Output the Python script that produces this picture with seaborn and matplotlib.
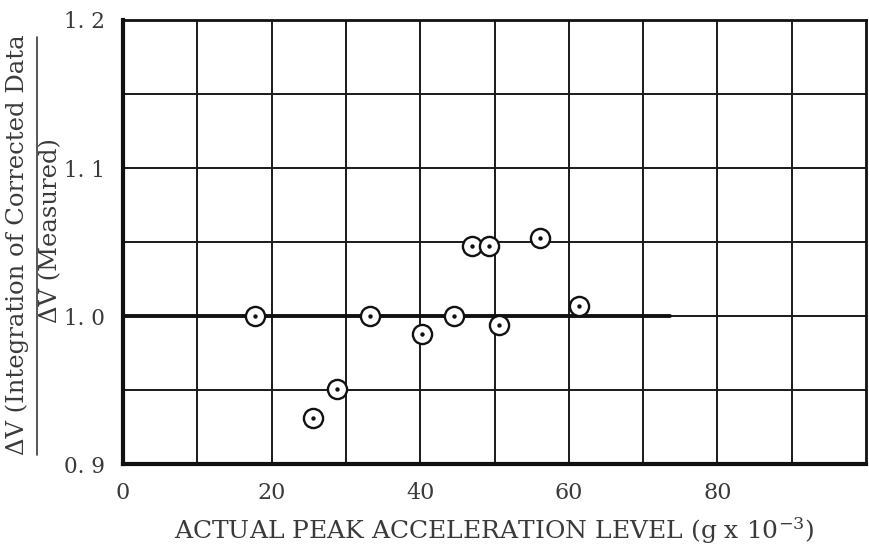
import matplotlib
matplotlib.use("Agg")
import matplotlib.pyplot as plt
import seaborn as sns
import pandas as pd
from matplotlib.lines import Line2D

# values
peak_accel = [17.8, 25.6, 28.8, 33.2, 40.2, 44.5, 47.0, 49.3, 50.6, 56.1, 61.4]
dv_ratio = [1.000, 0.931, 0.951, 1.000, 0.988, 1.000, 1.047, 1.047, 0.994, 1.053, 1.007]
x_ticks = [0, 20, 40, 60, 80]
y_ticks = [0.9, 1.0, 1.1, 1.2]
y_tick_labels = ['0. 9', '1. 0', '1. 1', '1. 2']
ref_line_end = 73.6

df = pd.DataFrame({'accel': peak_accel, 'ratio': dv_ratio})

sns.set_style('white')
plt.rcParams['font.family'] = ['DejaVu Serif']
plt.rcParams['mathtext.default'] = 'regular'

ink = '#3a3a3a'
fig = plt.figure(figsize=(8.7, 5.46), dpi=100)
ax = fig.add_axes([0.1414, 0.150, 0.854, 0.8134])

# grid every 10 g / every 0.05
for gx in range(10, 100, 10):
    ax.axvline(gx, color='#1a1a1a', lw=1.4, zorder=1)
for gy in [0.95, 1.0, 1.05, 1.1, 1.15]:
    ax.axhline(gy, color='#1a1a1a', lw=1.4, zorder=1)
ax.plot([0, ref_line_end], [1.0, 1.0], color='#111111', lw=2.8, zorder=2)

sns.scatterplot(data=df, x='accel', y='ratio', ax=ax, marker='o', s=190,
                facecolor='white', edgecolor='#111111', linewidth=1.7, zorder=3)
sns.scatterplot(data=df, x='accel', y='ratio', ax=ax, marker='o', s=10,
                color='#111111', linewidth=0, zorder=4)

ax.set_xlim(0, 100)
ax.set_ylim(0.9, 1.2)
ax.set_xticks(x_ticks)
ax.set_xticklabels([str(t) for t in x_ticks])
ax.set_yticks(y_ticks)
ax.set_yticklabels(y_tick_labels)
ax.tick_params(axis='both', length=0, colors=ink)
ax.tick_params(axis='x', pad=13, labelsize=16)
ax.tick_params(axis='y', pad=13, labelsize=15.5)

for side, w in [('left', 3.0), ('bottom', 3.0), ('top', 2.0), ('right', 2.0)]:
    ax.spines[side].set_visible(True)
    ax.spines[side].set_color('#111111')
    ax.spines[side].set_linewidth(w)

ax.set_xlabel('ACTUAL PEAK ACCELERATION LEVEL (g x 10$^{-3}$)', fontsize=18,
              color=ink, labelpad=8)
ax.set_ylabel('')

# fraction-style y label
fig.text(0.020, 0.552, '\u0394V (Integration of Corrected Data', rotation=90,
         ha='center', va='center', fontsize=17.5, color=ink)
fig.text(0.058, 0.578, '\u0394V (Measured)', rotation=90,
         ha='center', va='center', fontsize=17.5, color=ink)
fig.add_artist(Line2D([0.0425, 0.0425], [0.167, 0.932], transform=fig.transFigure,
                      color=ink, lw=1.2))

fig.savefig('out.png', dpi=100)
